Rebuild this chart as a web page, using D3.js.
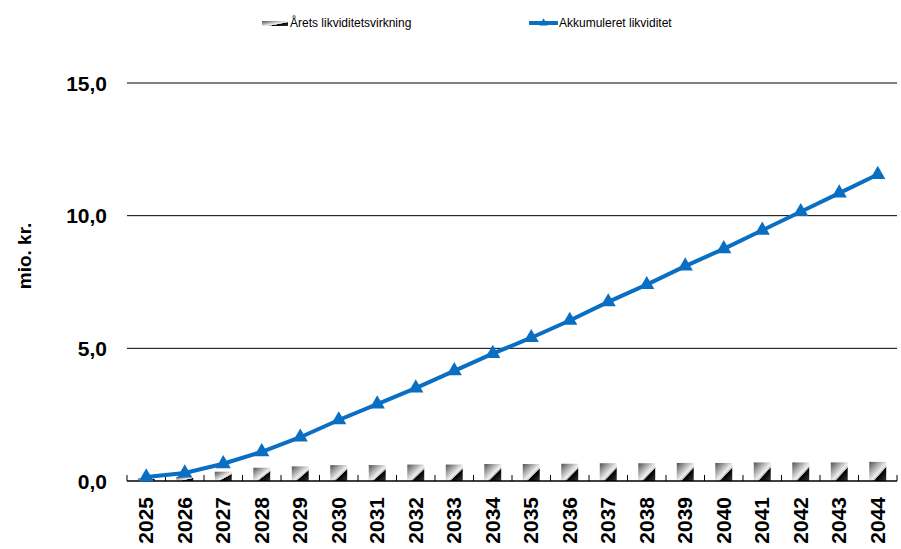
<!DOCTYPE html>
<html>
<head>
<meta charset="utf-8">
<script src="https://cdn.jsdelivr.net/npm/d3@7"></script>
<style>
body { margin: 0; background: #fff; }
text { font-family: Arial, "Liberation Sans", sans-serif; }
</style>
</head>
<body>
<div id="box-div"></div>
<script>
const years = ['2025','2026','2027','2028','2029','2030','2031','2032','2033','2034',
    '2035','2036','2037','2038','2039','2040','2041','2042','2043','2044'];
const aarets = [0.1, 0.15, 0.35, 0.5, 0.55, 0.6, 0.6, 0.62, 0.62, 0.64,
    0.64, 0.65, 0.67, 0.67, 0.68, 0.68, 0.7, 0.7, 0.7, 0.72];
const akkumuleret = [0.15, 0.3, 0.65, 1.1, 1.65, 2.3, 2.9, 3.5, 4.15, 4.8,
    5.4, 6.05, 6.75, 7.4, 8.1, 8.75, 9.45, 10.15, 10.85, 11.55];
const yTicks = [0, 5, 10, 15];
const legendLabels = ['Årets likviditetsvirkning', 'Akkumuleret likviditet'];

const dms = { width: 901, height: 549, left: 127, right: 897, top: 83, bottom: 481 };
const blue = '#0a6fc2';

const svg = d3.select('#box-div').append('svg')
    .attr('width', dms.width)
    .attr('height', dms.height);

// bar fill: grey diagonal gradient with dark corner
const defs = svg.append('defs');
const grad = defs.append('linearGradient')
    .attr('id', 'barGrad')
    .attr('x1', 0).attr('y1', 0).attr('x2', 1).attr('y2', 1);
[[0, '#505050'], [0.55, '#f0f0f0'], [0.63, '#b0b0b0'], [0.65, '#000'], [1, '#3c3c3c']]
    .forEach(s => grad.append('stop').attr('offset', s[0]).attr('stop-color', s[1]));

const x = d3.scaleBand().domain(years).range([dms.left, dms.right]).paddingInner(0.56).paddingOuter(0.28);
const xb = d3.scaleBand().domain(years).range([dms.left, dms.right]);
const y = d3.scaleLinear().domain([0, 15]).range([dms.bottom, dms.top]);

// gridlines
svg.append('g').selectAll('line')
    .data(yTicks.filter(d => d > 0))
    .join('line')
    .attr('x1', dms.left).attr('x2', dms.right)
    .attr('y1', d => y(d)).attr('y2', d => y(d))
    .attr('stroke', '#000').attr('stroke-width', 1);

// y labels
svg.append('g').selectAll('text')
    .data(yTicks)
    .join('text')
    .attr('x', 107).attr('y', d => y(d))
    .attr('dy', '0.36em')
    .attr('text-anchor', 'end')
    .attr('font-size', 21).attr('font-weight', 'bold')
    .text(d => d3.format('.1f')(d).replace('.', ','));

svg.append('text')
    .attr('transform', 'translate(31,256) rotate(-90)')
    .attr('text-anchor', 'middle')
    .attr('font-size', 19).attr('font-weight', 'bold')
    .text('mio. kr.');

// bars
svg.append('g').selectAll('rect')
    .data(aarets)
    .join('rect')
    .attr('x', (d, i) => x(years[i]))
    .attr('width', x.bandwidth())
    .attr('y', d => y(d))
    .attr('height', d => y(0) - y(d))
    .attr('fill', 'url(#barGrad)');

// x axis
svg.append('line')
    .attr('x1', dms.left).attr('x2', dms.right)
    .attr('y1', y(0)).attr('y2', y(0))
    .attr('stroke', '#000').attr('stroke-width', 1.5);
svg.append('g').selectAll('line')
    .data(years.concat(['end']))
    .join('line')
    .attr('x1', (d, i) => dms.left + i * xb.bandwidth())
    .attr('x2', (d, i) => dms.left + i * xb.bandwidth())
    .attr('y1', y(0)).attr('y2', y(0) - 6)
    .attr('stroke', '#000');

svg.append('g').selectAll('text')
    .data(years)
    .join('text')
    .attr('transform', d => `translate(${xb(d) + xb.bandwidth() / 2 + 7},497) rotate(-90)`)
    .attr('text-anchor', 'end')
    .attr('font-size', 21).attr('font-weight', 'bold')
    .text(d => d);

// line
const lineGen = d3.line()
    .x((d, i) => xb(years[i]) + xb.bandwidth() / 2)
    .y(d => y(d));
svg.append('path')
    .datum(akkumuleret)
    .attr('d', lineGen)
    .attr('fill', 'none')
    .attr('stroke', blue)
    .attr('stroke-width', 4);

const tri = d3.symbol().type(d3.symbolTriangle).size(100);
svg.append('g').selectAll('path')
    .data(akkumuleret)
    .join('path')
    .attr('d', tri)
    .attr('transform', (d, i) => `translate(${xb(years[i]) + xb.bandwidth() / 2},${y(d)})`)
    .attr('fill', blue);

// legend
const legend = svg.append('g');
legend.append('rect')
    .attr('x', 262).attr('y', 21).attr('width', 26).attr('height', 5)
    .attr('fill', 'url(#barGrad)');
legend.append('text')
    .attr('x', 290).attr('y', 23).attr('dy', '0.35em')
    .attr('font-size', 12)
    .text(legendLabels[0]);
legend.append('line')
    .attr('x1', 529).attr('x2', 558).attr('y1', 23).attr('y2', 23)
    .attr('stroke', blue).attr('stroke-width', 4);
legend.append('path')
    .attr('d', d3.symbol().type(d3.symbolTriangle).size(30))
    .attr('transform', 'translate(543.5,23)')
    .attr('fill', blue);
legend.append('text')
    .attr('x', 559).attr('y', 23).attr('dy', '0.35em')
    .attr('font-size', 12)
    .text(legendLabels[1]);
</script>
</body>
</html>
